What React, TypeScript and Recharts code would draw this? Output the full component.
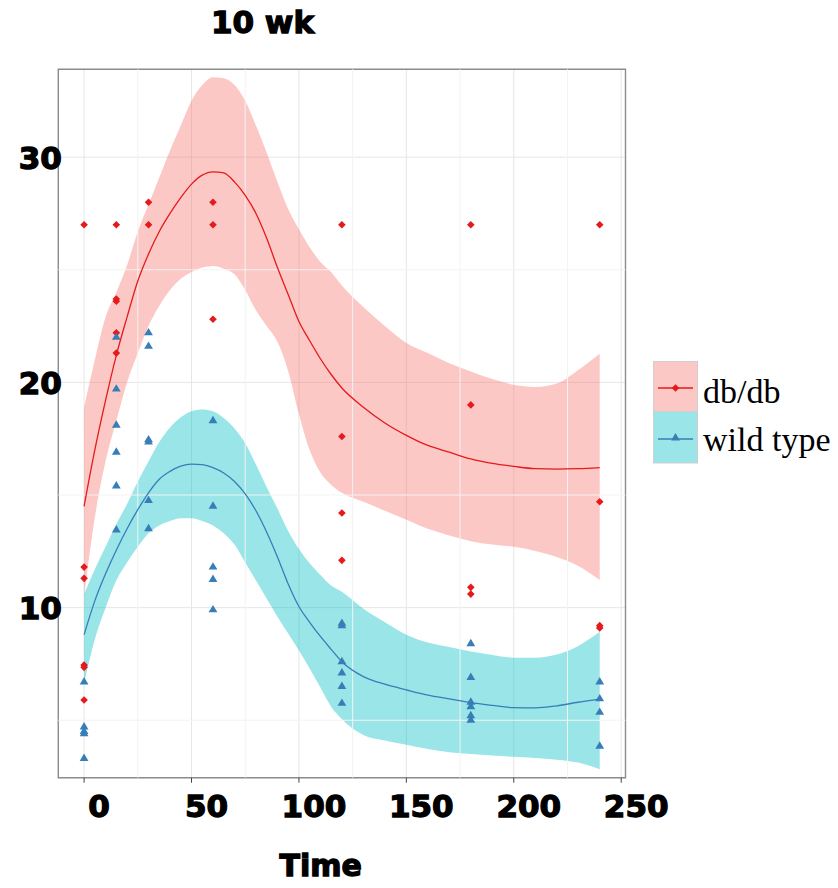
import React from "react";
import {
  ComposedChart,
  Area,
  Line,
  Scatter,
  XAxis,
  YAxis,
  CartesianGrid,
  ReferenceLine,
  ReferenceArea,
} from "recharts";

// ---- smoothed fits (loess) and confidence bands, sampled over time ----
const times = [
  0, 5, 10, 15, 20, 25, 30, 35, 40, 45, 50, 55, 60, 65, 70, 75, 80, 85, 90, 95,
  100, 105, 110, 115, 120, 130, 140, 150, 160, 170, 180, 190, 200, 210, 220, 230, 240,
];

const dbFit = [
  14.5, 17.0, 19.2, 21.2, 22.9, 24.5, 25.7, 26.7, 27.5, 28.2, 28.8, 29.2, 29.35, 29.3, 28.9, 28.3,
  27.5, 26.4, 25.1, 23.9, 22.7, 21.85, 21.05, 20.35, 19.75, 18.9, 18.2, 17.65, 17.2, 16.9, 16.6,
  16.4, 16.27, 16.17, 16.15, 16.17, 16.22,
];
const dbUpper = [
  18.9, 21.0, 22.9, 24.0, 25.2, 26.7, 27.9, 29.1, 30.3, 31.4, 32.5, 33.2, 33.55, 33.5, 33.2, 32.5,
  31.4, 30.2, 28.9, 27.7, 26.8, 26.0, 25.35, 24.9, 24.3, 23.35, 22.5, 21.75, 21.3, 20.85, 20.48,
  20.15, 19.9, 19.8, 19.95, 20.55, 21.27,
];
const dbLower = [
  10.5, 14.0, 16.5, 18.3, 20.0, 21.3, 22.5, 23.4, 24.1, 24.6, 24.9, 25.1, 25.17, 25.05, 24.8, 24.1,
  23.2, 22.5, 21.8, 20.5, 18.6, 17.0, 16.0, 15.45, 15.1, 14.7, 14.3, 13.9, 13.5, 13.2, 12.95,
  12.8, 12.7, 12.52, 12.25, 11.85, 11.23,
];

const wtFit = [
  8.8, 10.3, 11.5, 12.55, 13.5, 14.35, 15.1, 15.7, 16.05, 16.28, 16.37, 16.35, 16.22, 15.98, 15.6,
  15.05, 14.3, 13.35, 12.25, 11.05, 10.05, 9.35, 8.72, 8.15, 7.6, 6.94, 6.6, 6.35, 6.12, 5.95, 5.78,
  5.66, 5.56, 5.55, 5.64, 5.8, 5.94,
];
const wtUpper = [
  10.6, 11.7, 12.7, 13.7, 14.6, 15.6, 16.5, 17.35, 18.0, 18.45, 18.72, 18.8, 18.72, 18.42, 17.95,
  17.3, 16.35, 15.35, 14.4, 13.4, 12.6, 11.97, 11.45, 10.98, 10.7, 9.95, 9.35, 8.8, 8.45, 8.25,
  8.05, 7.9, 7.78, 7.78, 7.92, 8.3, 8.93,
];
const wtLower = [
  6.64, 8.6, 10.0, 11.2, 12.0, 12.7, 13.3, 13.65, 13.85, 13.97, 13.97, 13.85, 13.65, 13.3, 12.8,
  12.0, 11.2, 10.4, 9.6, 8.85, 8.1, 7.3, 6.45, 5.6, 5.05, 4.35, 4.1, 3.91, 3.72, 3.58, 3.5, 3.44,
  3.38, 3.33, 3.25, 3.12, 2.82,
];

// ---- raw observations ----
const dbTimes = [
  0, 0, 0, 0, 0, 0, 15, 15, 15, 15, 15, 30, 30, 60, 60, 60, 120, 120, 120, 120, 180, 180, 180, 180,
  240, 240, 240, 240,
];
const dbValues = [
  27.0, 11.8, 11.3, 7.45, 7.35, 5.9, 27.0, 23.7, 23.6, 22.2, 21.3, 28.0, 27.0, 28.0, 27.0, 22.8,
  27.0, 17.6, 14.2, 12.1, 27.0, 19.0, 10.9, 10.6, 27.0, 14.7, 9.2, 9.1,
];
const wtTimes = [
  0, 0, 0, 0, 0, 15, 15, 15, 15, 15, 15, 30, 30, 30, 30, 30, 30, 60, 60, 60, 60, 60, 120, 120, 120,
  120, 120, 120, 180, 180, 180, 180, 180, 180, 240, 240, 240, 240,
];
const wtValues = [
  6.7, 4.7, 4.5, 4.4, 3.3, 22.0, 19.7, 18.1, 16.9, 15.4, 13.45, 22.2, 21.6, 17.45, 17.35, 14.75,
  13.5, 18.3, 14.5, 11.8, 11.25, 9.9, 9.3, 9.2, 7.6, 7.1, 6.5, 5.75, 8.4, 6.9, 5.8, 5.6, 5.2, 5.0,
  6.7, 5.95, 5.35, 3.85,
];

const groupNames = ["db/db", "wild type"];
const titleText = "10 wk";
const xTitle = "Time";

const xTicks = [0, 50, 100, 150, 200, 250];
const yTicks = [10, 20, 30];
const xMinor = [25, 75, 125, 175, 225];
const yMinor = [5, 15, 25];
const xDomain = [-12, 252];
const yDomain = [2.45, 33.9];

// ---- colours ----
const RED = "#E41A1C";
const BLUE = "#377EB8";
const PINK = "#F8766D";
const CYAN = "#00BFC4";
const BAND_OPACITY = 0.4;

const rows = times.map((t, i) => ({
  t,
  dbFit: dbFit[i],
  dbBand: [dbLower[i], dbUpper[i]],
  wtFit: wtFit[i],
  wtBand: [wtLower[i], wtUpper[i]],
}));
const dbPoints = dbTimes.map((t, i) => ({ t, v: dbValues[i] }));
const wtPoints = wtTimes.map((t, i) => ({ t, v: wtValues[i] }));

const W = 838;
const H = 888;
const PLOT = { left: 58.3, top: 69.3, right: 625.5, bottom: 777.7 };

const heavyFont: React.CSSProperties = {
  fontFamily: "'DejaVu Sans', sans-serif",
  fontWeight: 700,
};

const Diamond = (props: any) => {
  const { cx, cy } = props;
  if (cx == null || cy == null) return null;
  const r = 3.8;
  return (
    <polygon
      points={`${cx},${cy - r} ${cx + r},${cy} ${cx},${cy + r} ${cx - r},${cy}`}
      fill={RED}
    />
  );
};

const Triangle = (props: any) => {
  const { cx, cy } = props;
  if (cx == null || cy == null) return null;
  const hw = 4.4;
  const h = 7.4;
  return (
    <polygon
      points={`${cx},${cy - (2 * h) / 3} ${cx + hw},${cy + h / 3} ${cx - hw},${cy + h / 3}`}
      fill={BLUE}
    />
  );
};

const XTick = (props: any) => {
  const { x, payload } = props;
  return (
    <text
      x={x + 15}
      y={PLOT.bottom + 39}
      textAnchor="middle"
      fontSize={31}
      fill="#000"
      stroke="#000"
      strokeWidth={1.3}
      style={heavyFont}
    >
      {payload.value}
    </text>
  );
};

const YTick = (props: any) => {
  const { y, payload } = props;
  return (
    <text
      x={PLOT.left + 3.5}
      y={y + 11.5}
      textAnchor="end"
      fontSize={31}
      fill="#000"
      stroke="#000"
      strokeWidth={1.3}
      style={heavyFont}
    >
      {payload.value}
    </text>
  );
};

const LegendBox = () => {
  const serif = "'Liberation Serif', 'Times New Roman', serif";
  return (
    <svg
      width={185}
      height={106}
      style={{ position: "absolute", left: 653, top: 361, overflow: "visible" }}
    >
      <rect x={0.5} y={0.5} width={44} height={50} fill={PINK} fillOpacity={BAND_OPACITY} stroke="#cfcfcf" />
      <line x1={5} x2={40} y1={27} y2={27} stroke={RED} strokeWidth={1.4} />
      <Diamond cx={22.5} cy={27} />
      <rect x={0.5} y={50.5} width={44} height={51.5} fill={CYAN} fillOpacity={BAND_OPACITY} stroke="#cfcfcf" />
      <line x1={5} x2={40} y1={78} y2={78} stroke={BLUE} strokeWidth={1.4} />
      <Triangle cx={22.5} cy={77} />
      <text x={50} y={42} fontSize={34} fontFamily={serif} fill="#000">
        {groupNames[0]}
      </text>
      <text x={50} y={90} fontSize={34} fontFamily={serif} fill="#000">
        {groupNames[1]}
      </text>
    </svg>
  );
};

export default function App() {
  return (
    <div style={{ position: "absolute", left: 0, top: 0, width: W, height: H, background: "#fff" }}>
      <div
        style={{
          position: "absolute",
          left: 162.5,
          width: 200,
          top: 7.1,
          textAlign: "center",
          fontSize: 31,
          lineHeight: "31px",
          color: "#000",
          WebkitTextStroke: "1.3px #000",
          ...heavyFont,
        }}
      >
        {titleText}
      </div>
      <ComposedChart
        width={W}
        height={H}
        data={rows}
        margin={{ top: PLOT.top, left: 0, right: W - PLOT.right, bottom: 0 }}
      >
        <CartesianGrid stroke="#e6e6e6" strokeWidth={1} />
        {xMinor.map((v) => (
          <ReferenceLine key={`xm${v}`} x={v} stroke="#f3f3f3" strokeWidth={1} />
        ))}
        {yMinor.map((v) => (
          <ReferenceLine key={`ym${v}`} y={v} stroke="#f3f3f3" strokeWidth={1} />
        ))}
        <XAxis
          dataKey="t"
          type="number"
          domain={xDomain}
          ticks={xTicks}
          allowDataOverflow
          axisLine={false}
          tickLine={{ stroke: "#444", strokeWidth: 1 }}
          tickSize={5}
          tickMargin={0}
          height={H - PLOT.bottom}
          tick={XTick}
          interval={0}
        />
        <YAxis
          type="number"
          domain={yDomain}
          ticks={yTicks}
          allowDataOverflow
          axisLine={false}
          tickLine={false}
          tickSize={0}
          tickMargin={0}
          width={PLOT.left}
          tick={YTick}
          interval={0}
        />
        <Scatter name={groupNames[0]} data={dbPoints} dataKey="v" shape={Diamond} fill={RED} isAnimationActive={false} />
        <Scatter name={groupNames[1]} data={wtPoints} dataKey="v" shape={Triangle} fill={BLUE} isAnimationActive={false} />
        <Area
          type="monotone"
          dataKey="dbBand"
          fill={PINK}
          fillOpacity={BAND_OPACITY}
          stroke="none"
          isAnimationActive={false}
        />
        <Line type="monotone" dataKey="dbFit" stroke={RED} strokeWidth={1.3} dot={false} isAnimationActive={false} />
        <Area
          type="monotone"
          dataKey="wtBand"
          fill={CYAN}
          fillOpacity={BAND_OPACITY}
          stroke="none"
          isAnimationActive={false}
        />
        <Line type="monotone" dataKey="wtFit" stroke={BLUE} strokeWidth={1.3} dot={false} isAnimationActive={false} />
        <ReferenceArea
          x1={xDomain[0]}
          x2={xDomain[1]}
          y1={yDomain[0]}
          y2={yDomain[1]}
          fill="none"
          stroke="#8c8c8c"
          strokeWidth={1.4}
        />
      </ComposedChart>
      <LegendBox />
      <div
        style={{
          position: "absolute",
          left: 220.8,
          width: 200,
          top: 851.3,
          textAlign: "center",
          fontSize: 30,
          lineHeight: "30px",
          color: "#000",
          WebkitTextStroke: "1.3px #000",
          ...heavyFont,
        }}
      >
        {xTitle}
      </div>
    </div>
  );
}
